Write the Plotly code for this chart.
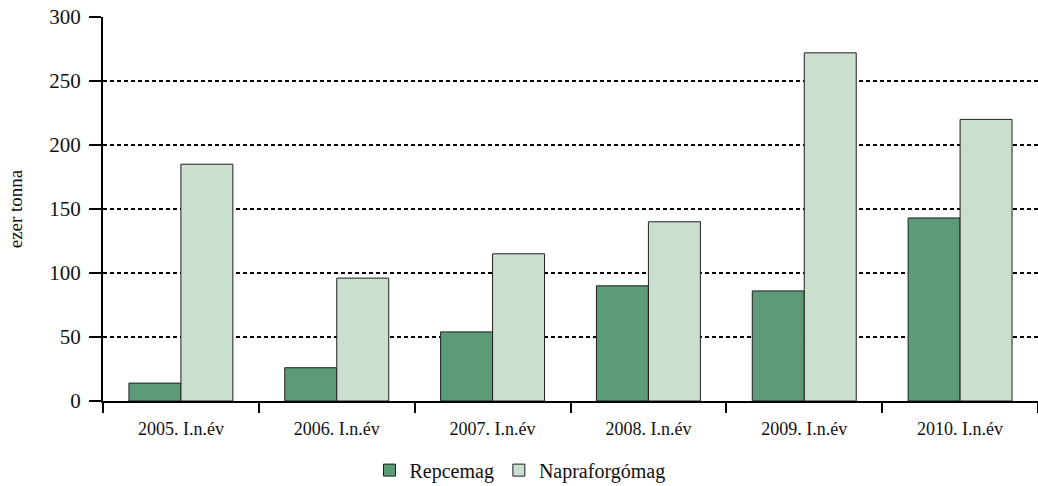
import plotly.graph_objects as go

categories = ["2005. I.n.év", "2006. I.n.év", "2007. I.n.év", "2008. I.n.év", "2009. I.n.év", "2010. I.n.év"]
repcemag = [14, 26, 54, 90, 86, 143]
napraforgomag = [185, 96, 115, 140, 272, 220]
y_ticks = [0, 50, 100, 150, 200, 250, 300]

FONT = "Liberation Serif"

fig = go.Figure()
fig.add_trace(go.Bar(x=categories, y=repcemag, name="Repcemag",
                     marker=dict(color="#5B9B76", line=dict(color="#1e1e1e", width=1))))
fig.add_trace(go.Bar(x=categories, y=napraforgomag, name="Napraforgómag",
                     marker=dict(color="#CBDFD1", line=dict(color="#1e1e1e", width=1))))

fig.update_layout(
    width=1038, height=486,
    margin=dict(l=103, r=0, t=17, b=85, autoexpand=False),
    paper_bgcolor="white", plot_bgcolor="white",
    barmode="group", bargap=0.333, bargroupgap=0,
    font=dict(family=FONT, color="#111111", size=18),
    showlegend=True,
    legend=dict(orientation="h", x=0.285, y=-0.18, xanchor="left", yanchor="middle",
                font=dict(family=FONT, size=20, color="#111111"), itemwidth=30,
                traceorder="normal", tracegroupgap=0),
)
fig.update_xaxes(
    type="category", tickson="boundaries", ticks="outside", ticklen=10, tickwidth=2,
    tickcolor="black", showline=True, linecolor="black", linewidth=2,
    showgrid=False, tickfont=dict(family=FONT, size=18), automargin=False,
    ticklabelstandoff=10,
)
fig.update_yaxes(
    range=[0, 300], tickvals=y_ticks, ticks="outside", ticklen=12, tickwidth=2,
    tickcolor="black", showline=True, linecolor="black", linewidth=2,
    showgrid=True, gridcolor="black", gridwidth=2, griddash="4px,3px",
    zeroline=False, tickfont=dict(family=FONT, size=21), automargin=False,
    ticklabelstandoff=4,
    title=dict(text="ezer tonna", font=dict(family=FONT, size=19), standoff=22),
)
fig.write_html("out.html", config={"displayModeBar": False},
               post_script="document.body.style.margin='0';document.body.style.overflow='hidden';")
